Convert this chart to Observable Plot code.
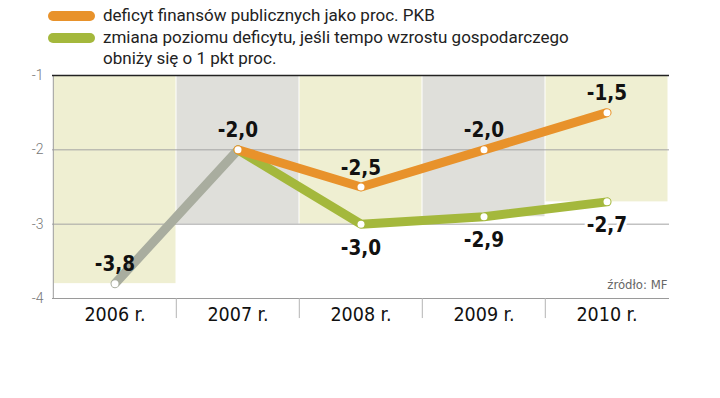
<!DOCTYPE html>
<html><head><meta charset="utf-8">
<script src="https://cdn.jsdelivr.net/npm/d3@7"></script>
<script src="https://cdn.jsdelivr.net/npm/@observablehq/plot@0.6"></script>
<style>
body{margin:0;background:#fff;}
#legend{position:relative;height:66px;width:720px;font-family:Roboto,sans-serif;font-size:17px;color:#222;}
.sw{position:absolute;left:48px;width:47px;height:10px;border-radius:5px;}
.lt{position:absolute;left:103px;line-height:21px;white-space:nowrap;}
svg g[aria-label="halo"]{filter:drop-shadow(1px 3px 3px rgba(0,0,0,0.25));}
</style></head><body>
<div id="legend"></div><div id="chart"></div>
<script>
// ---- data ----
const years = ["2006 r.", "2007 r.", "2008 r.", "2009 r.", "2010 r."];
const history = [-3.8, -2.0, null, null, null];          // gray segment
const deficit = [null, -2.0, -2.5, -2.0, -1.5];          // orange
const slowdown = [null, -2.0, -3.0, -2.9, -2.7];         // green
const bgBottom = [-3.8, -3.0, -3.0, -2.9, -2.7];         // shaded column bottoms
const yTicks = [-1, -2, -3, -4];
const legendItems = ["deficyt finansów publicznych jako proc. PKB",
  "zmiana poziomu deficytu, jeśli tempo wzrostu gospodarczego<br>obniży się o 1 pkt proc."];
const source = "źródło: MF";

// ---- style ----
const C = {orange: "#e8922b", green: "#a4b83c", gray: "#a9ad9f", yellowBg: "#efefd2", grayBg: "#dfdfda"};
const W = 720, H = 332, mT = 9, mB = 100, mL = 52, mR = 51;
const bw = (W - mL - mR) / years.length;
const fmt = v => v.toFixed(1).replace(".", ",");

// legend
const lg = document.getElementById("legend");
lg.innerHTML =
  `<div class="sw" style="top:11px;background:${C.orange}"></div>` +
  `<div class="sw" style="top:33px;background:${C.green}"></div>` +
  `<div class="lt" style="top:5px">${legendItems[0]}</div>` +
  `<div class="lt" style="top:27px">${legendItems[1]}</div>`;

const series = (arr) => years.map((x, i) => ({x, y: arr[i]})).filter(d => d.y != null);
const histPts = series(history), defPts = series(deficit), slowPts = series(slowdown);
const bgRows = years.map((x, i) => ({x, b: bgBottom[i], c: i % 2 ? C.grayBg : C.yellowBg}));
const above = [histPts[0], ...defPts];
const below = slowPts.slice(1);

const labelFont = "'DejaVu Sans Condensed', 'Liberation Sans Narrow', sans-serif";
const lineSet = (pts, color) => [
  Plot.line(pts, {x: "x", y: "y", stroke: "white", strokeWidth: 15, strokeLinecap: "round", strokeLinejoin: "round", ariaLabel: "halo"}),
  Plot.line(pts, {x: "x", y: "y", stroke: color, strokeWidth: 9, strokeLinecap: "round", strokeLinejoin: "round"}),
  Plot.dot(pts, {x: "x", y: "y", r: 3.5, fill: "white"})
];

const chart = Plot.plot({
  width: W, height: H, marginTop: mT, marginBottom: mB, marginLeft: mL, marginRight: mR,
  style: {fontFamily: "Roboto, sans-serif", background: "white"},
  x: {type: "band", domain: years, padding: 0, axis: null},
  y: {domain: [-4, -1], axis: null},
  color: {type: "identity"},
  marks: [
    Plot.barY(bgRows, {x: "x", y1: -1, y2: "b", fill: "c", insetLeft: 0.5, insetRight: 0.5}),
    Plot.ruleY(yTicks.slice(1, 3), {stroke: "#a3a3a3", strokeWidth: 1}),
    Plot.ruleY([yTicks[3]], {stroke: "#9a9a9a", strokeWidth: 1}),
    Plot.ruleX([years[0]], {y1: -1, y2: -4, dx: -bw / 2, stroke: "#9a9a9a"}),
    Plot.ruleX(years.slice(1), {y1: -4, y2: -4.27, dx: -bw / 2, stroke: "#b5b5b5"}),
    Plot.ruleY([yTicks[0]], {stroke: "#222", strokeWidth: 1.6}),
    Plot.axisY({ticks: yTicks, tickSize: 0, tickPadding: 9, fontSize: 14, fill: "#777", fontWeight: 300, tickFormat: d => String(d), label: null}),
    Plot.axisX({tickSize: 0, tickPadding: 9, fontSize: 19.5, fill: "#111", fontFamily: labelFont, label: null}),
    Plot.text([source], {frameAnchor: "bottom-right", dy: -10, dx: -2, fontSize: 13, fill: "#666", fontFamily: labelFont, textAnchor: "end"}),
    ...lineSet(histPts, C.gray),
    ...lineSet(slowPts, C.green),
    ...lineSet(defPts, C.orange),
    Plot.text(above, {x: "x", y: "y", text: d => fmt(d.y), dy: -19, fontSize: 20.5, fontWeight: "bold", fill: "#111", fontFamily: labelFont}),
    Plot.text(below, {x: "x", y: "y", text: d => fmt(d.y), dy: 24, fontSize: 20.5, fontWeight: "bold", fill: "#111", fontFamily: labelFont, stroke: "white", strokeWidth: 6})
  ]
});
document.getElementById("chart").appendChild(chart);
</script>
</body></html>
